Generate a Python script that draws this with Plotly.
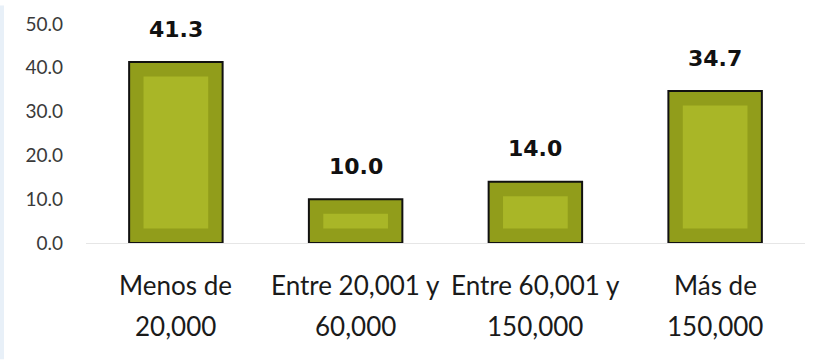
import plotly.graph_objects as go

# Population size groups and the share (%) in each
categories = ["Menos de<br>20,000", "Entre 20,001 y<br>60,000",
              "Entre 60,001 y<br>150,000", "Más de<br>150,000"]
values = [41.3, 10.0, 14.0, 34.7]
y_ticks = [0, 10, 20, 30, 40, 50]
y_tick_labels = ["0.0", "10.0", "20.0", "30.0", "40.0", "50.0"]

OUTER = "#919d1b"
INNER = "#a9b627"
INSET = 3.3          # inner panel inset, in axis units
W, H = 820, 362
ML, MR, MT, MB = 86, 15, 19, 119

fig = go.Figure()

# Outer bar with dark outline
fig.add_trace(go.Bar(
    x=categories, y=values, width=0.52,
    marker=dict(color=OUTER, line=dict(color="#111111", width=2)),
    hoverinfo="skip", showlegend=False,
))

# Lighter inner panel of each bar
fig.add_trace(go.Bar(
    x=categories, y=[v - 2 * INSET for v in values],
    base=[INSET] * len(values), width=0.36,
    marker=dict(color=INNER, line=dict(width=0)),
    hoverinfo="skip", showlegend=False,
))

annotations = []
for cat, v in zip(categories, values):
    annotations.append(dict(
        x=cat, y=v, xref="x", yref="y", text=f"{v:.1f}",
        showarrow=False, yanchor="middle", yshift=33,
        font=dict(family="DejaVu Sans", size=22, color="#111111", weight="bold"),
    ))
    for i, line in enumerate(cat.split("<br>")):
        annotations.append(dict(
            x=cat, y=0, xref="x", yref="paper", text=line,
            showarrow=False, yanchor="middle", yshift=-42 - 41 * i,
            font=dict(family="Lato, sans-serif", size=26, color="#1a1a1a"),
        ))

plot_w = W - ML - MR
plot_h = H - MT - MB
fig.update_layout(
    width=W, height=H,
    margin=dict(l=ML, r=MR, t=MT, b=MB),
    paper_bgcolor="white", plot_bgcolor="white",
    barmode="overlay",
    annotations=annotations,
    shapes=[dict(type="rect", xref="paper", yref="paper",
                 x0=-ML / plot_w, x1=(-ML + 4) / plot_w,
                 y0=-MB / plot_h, y1=1 + MT / plot_h,
                 fillcolor="#e8f0f8", line=dict(width=0), layer="below")],
    xaxis=dict(showticklabels=False, ticks="", showgrid=False,
               showline=True, linecolor="#e6e6e6", linewidth=1,
               range=[-0.5, 3.5], fixedrange=True),
    yaxis=dict(range=[0, 50], tickvals=y_ticks, ticktext=y_tick_labels,
               showgrid=False, zeroline=False, showline=False, ticks="",
               ticklabelstandoff=22,
               tickfont=dict(family="Lato, sans-serif", size=19, color="#3a3a3a")),
)

fig.write_html("out.html")
